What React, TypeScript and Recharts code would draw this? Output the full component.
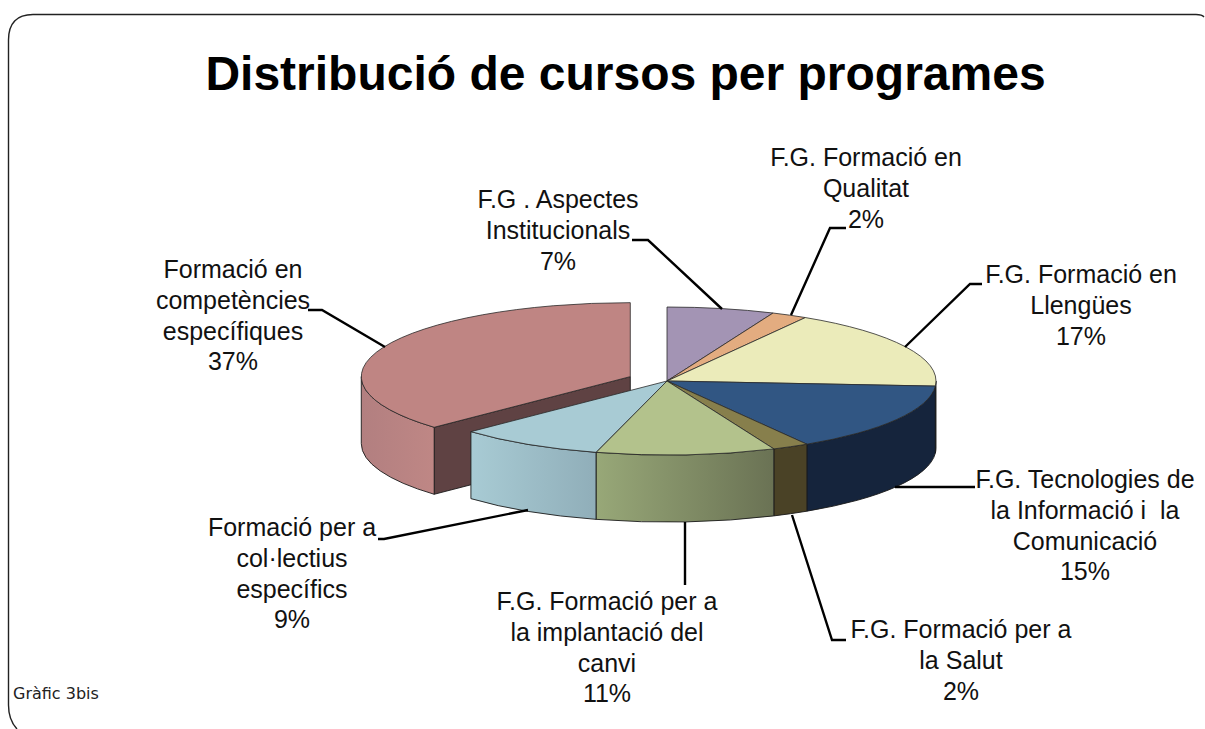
import React from "react";
import { PieChart, Pie } from "recharts";

const categories = [
  "Formació en competències específiques",
  "F.G . Aspectes Institucionals",
  "F.G. Formació en Qualitat",
  "F.G. Formació en Llengües",
  "F.G. Tecnologies de la Informació i la Comunicació",
  "F.G. Formació per a la Salut",
  "F.G. Formació per a la implantació del canvi",
  "Formació per a col·lectius específics",
];
// Shares
const values = [37, 6.45, 2.15, 17.5, 15.2, 2.2, 10.75, 8.75];
const labelLines = [
  ["Formació en", "competències", "específiques", "37%"],
  ["F.G . Aspectes", "Institucionals", "7%"],
  ["F.G. Formació en", "Qualitat", "2%"],
  ["F.G. Formació en", "Llengües", "17%"],
  ["F.G. Tecnologies de", "la Informació i  la", "Comunicació", "15%"],
  ["F.G. Formació per a", "la Salut", "2%"],
  ["F.G. Formació per a", "la implantació del", "canvi", "11%"],
  ["Formació per a", "col·lectius", "específics", "9%"],
];
const title = "Distribució de cursos per programes";
const caption = "Gràfic 3bis";

const topColors = ["#bf8583", "#a394b4", "#e3ac80", "#ebebba", "#315683", "#877f4c", "#b3c28c", "#a8cbd4"];
const wallFrom = ["#b27f80", "#a394b4", "#e3ac80", "#d8d8a8", "#15243c", "#4a4226", "#98a878", "#a8cbd4"];
const wallTo = ["#bf8785", "#a394b4", "#e3ac80", "#d8d8a8", "#15243c", "#4a4226", "#6a7254", "#90aeb9"];

const labelAnchors = [
  [233, 270], [558, 200], [866, 158], [1081, 275], [1085, 480], [961, 630], [607, 602], [292, 528],
];
const leaders = [
  "M385 347 L322 310 L308 310",
  "M722 309 L648 240 L632 240",
  "M791 315 L830 228 L846 228",
  "M905 347 L970 284 L982 284",
  "M895 487 L975 487",
  "M792 515 L832 640 L846 640",
  "M685 522 L685 585",
  "M528 510 L384 539 L378 539",
];

const CX = 667;
const CY = 381;
const RADIUS = 269;
const SQUASH = 0.275;
const DEPTH = 67;
const EXPLODE = 40;
const rad = (d: number) => (d * Math.PI) / 180;

function Slice3D(props: any) {
  const { cx, cy, outerRadius, startAngle, endAngle, name } = props;
  const i = categories.indexOf(name);
  const exploded = i === 0;
  const mid = (startAngle + endAngle) / 2;
  const ox = cx + (exploded ? EXPLODE * Math.cos(rad(mid)) : 0);
  const oy = cy - (exploded ? EXPLODE * SQUASH * Math.sin(rad(mid)) : 0);
  const rx = outerRadius;
  const ry = rx * SQUASH;
  const P = (a: number, d = 0) => `${ox + rx * Math.cos(rad(a))} ${oy - ry * Math.sin(rad(a)) + d}`;
  const large = startAngle - endAngle > 180 ? 1 : 0;
  const top = `M${ox} ${oy} L${P(startAngle)} A${rx} ${ry} 0 ${large} 1 ${P(endAngle)} Z`;

  // Only the part of the rim facing the viewer has a visible wall
  const ranges: [number, number][] = [[360, 180], [0, -180]];
  const walls: string[] = [];
  let lo = Infinity;
  let hi = -Infinity;
  ranges.forEach(([a, b]) => {
    const h = Math.min(startAngle, a);
    const l = Math.max(endAngle, b);
    if (h > l) {
      walls.push(
        `M${P(h)} A${rx} ${ry} 0 0 1 ${P(l)} L${P(l, DEPTH)} A${rx} ${ry} 0 0 0 ${P(h, DEPTH)} Z`
      );
      const xs = [ox + rx * Math.cos(rad(h)), ox + rx * Math.cos(rad(l))];
      lo = Math.min(lo, ...xs);
      hi = Math.max(hi, ...xs);
    }
  });
  const gid = `wall-${i}`;
  return (
    <g>
      <defs>
        <linearGradient id={gid} gradientUnits="userSpaceOnUse" x1={lo} x2={hi} y1={0} y2={0}>
          <stop offset="0" stopColor={wallFrom[i]} />
          <stop offset="1" stopColor={wallTo[i]} />
        </linearGradient>
      </defs>
      {exploded && (
        <path
          d={`M${ox} ${oy} L${P(startAngle)} L${P(startAngle, DEPTH)} L${ox} ${oy + DEPTH} Z`}
          fill="#5f4243"
          stroke="#1a1a1a"
          strokeWidth={0.9}
        />
      )}
      {walls.map((d) => (
        <path key={d} d={d} fill={`url(#${gid})`} stroke="#1a1a1a" strokeWidth={0.9} />
      ))}
      <path d={top} fill={topColors[i]} stroke="#2a2a2a" strokeWidth={0.8} strokeLinejoin="round" />
    </g>
  );
}

function SliceLabel(props: any) {
  const i = categories.indexOf(props.name);
  const [x, y] = labelAnchors[i];
  return (
    <g>
      <path d={leaders[i]} fill="none" stroke="#000" strokeWidth={2.4} />
      <text
        textAnchor="middle"
        fontFamily="'Liberation Sans', Arial, sans-serif"
        fontSize={25}
        fill="#111"
        style={{ whiteSpace: "pre" }}
      >
        {labelLines[i].map((line, k) => (
          <tspan key={k} x={x} y={y + 8 + k * 30.8}>
            {line}
          </tspan>
        ))}
      </text>
    </g>
  );
}

const data = categories.map((name, i) => ({ name, value: values[i] }));

export default function App() {
  return (
    <div style={{ position: "absolute", left: 0, top: 0, width: 1205, height: 729, background: "#fff" }}>
      <PieChart width={1205} height={729} margin={{ top: 0, right: 0, bottom: 0, left: 0 }}>
        <path
          d="M17 729 Q8.5 720 8.5 705 V40 Q8.5 14.5 33 14.5 H1196 Q1202 14.5 1204 17"
          fill="none"
          stroke="#222"
          strokeWidth={1.4}
        />
        <text
          x={625.5}
          y={90}
          textAnchor="middle"
          fontFamily="'Liberation Sans', Arial, sans-serif"
          fontWeight="bold"
          fontSize={48}
          fill="#000"
        >
          {title}
        </text>
        <text x={13} y={699} fontFamily="'DejaVu Sans', sans-serif" fontSize={16} fill="#222">
          {caption}
        </text>
        <Pie
          data={data}
          dataKey="value"
          nameKey="name"
          cx={CX}
          cy={CY}
          outerRadius={RADIUS}
          startAngle={223.2}
          endAngle={-136.8}
          paddingAngle={0}
          isAnimationActive={false}
          shape={Slice3D}
          label={SliceLabel}
          labelLine={false}
        />
      </PieChart>
    </div>
  );
}
